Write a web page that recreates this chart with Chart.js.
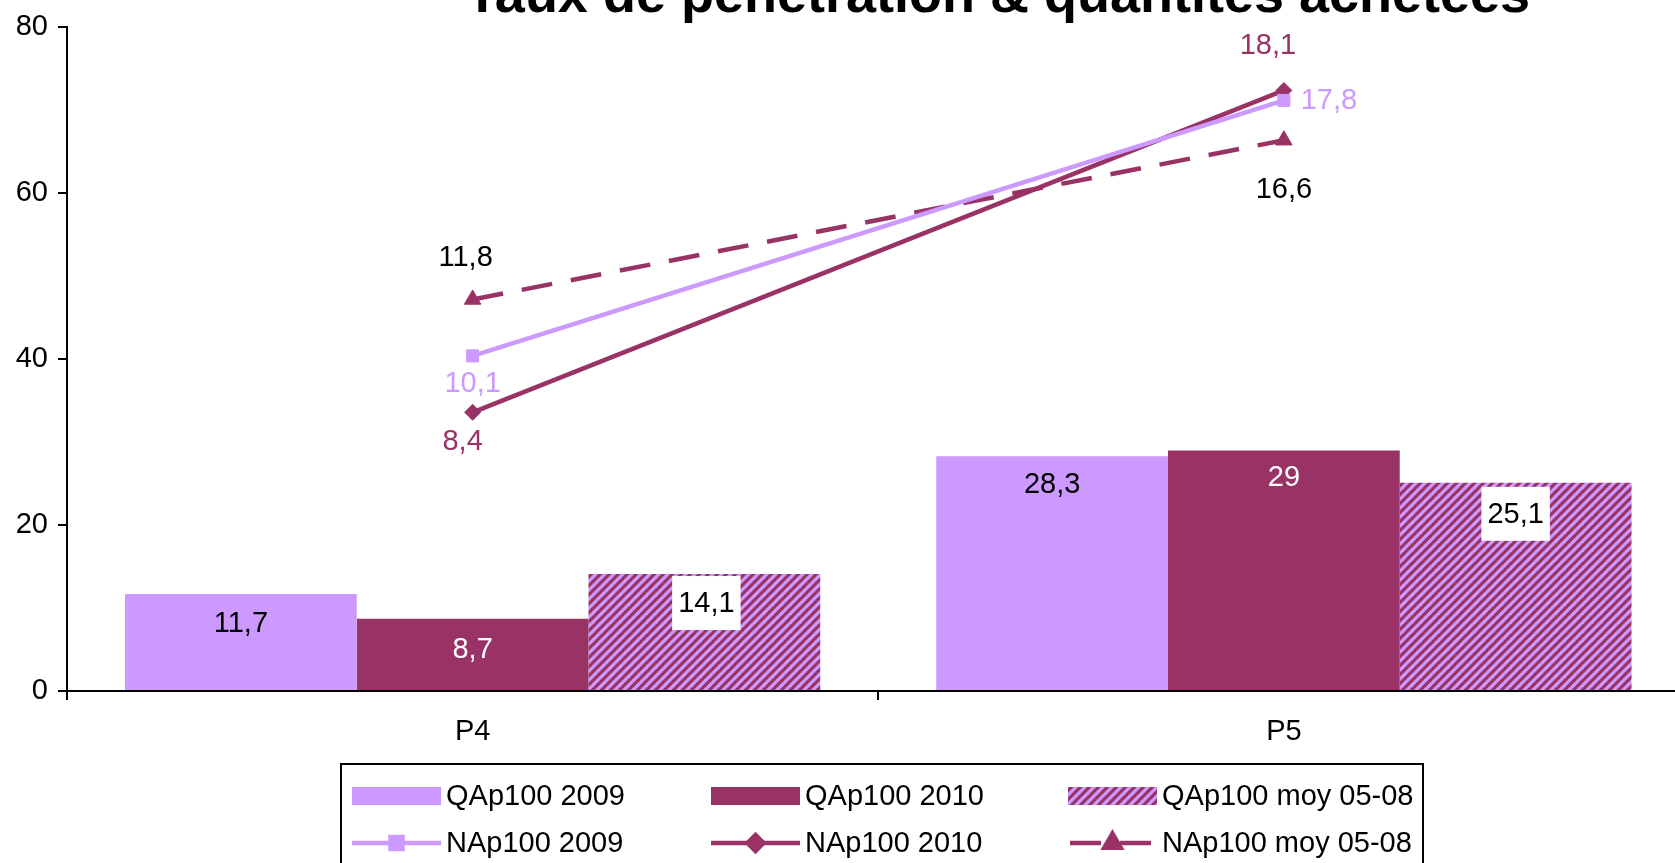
<!DOCTYPE html>
<html>
<head>
<meta charset="utf-8">
<script src="https://cdn.jsdelivr.net/npm/chart.js@4.4.1/dist/chart.umd.min.js"></script>
<style>
  html, body { margin: 0; padding: 0; background: #fff; overflow: hidden; }
  #wrap { position: absolute; left: 0; top: 0; width: 1700px; height: 863px; }
</style>
</head>
<body>
<div id="wrap"><canvas id="chart" width="1700" height="863"></canvas></div>
<script>
const chartTitle = "Taux de pénétration & quantités achetées";
const categories = ["P4", "P5"];
const yTicks = [0, 20, 40, 60, 80];
const y1Range = [0, 20];

// bars (left axis)
const qap2009 = [11.7, 28.3];
const qap2010 = [8.7, 29];
const qapMoy = [14.1, 25.1];

// lines (hidden right axis)
const nap2009 = [10.1, 17.8];
const nap2010 = [8.4, 18.1];
const napMoy = [11.8, 16.6];

const LIGHT = "#CC99FF";
const DARK = "#993366";
const FONT = "'Liberation Sans', Arial, sans-serif";
const TEXT_SIZE = 29;

function makeHatch() {
  const s = 9;
  const c = document.createElement("canvas");
  c.width = s; c.height = s;
  const g = c.getContext("2d");
  g.fillStyle = DARK;
  g.fillRect(0, 0, s, s);
  g.strokeStyle = LIGHT;
  g.lineWidth = 3.2;
  [-s, 0, s].forEach(dx => {
    g.beginPath();
    g.moveTo(dx - 1, s + 1);
    g.lineTo(dx + s + 1, -1);
    g.stroke();
  });
  return g.createPattern(c, "repeat");
}

const hatch = makeHatch();

function fmt(v) {
  return String(v).replace(".", ",");
}

const valueLabels = {
  id: "valueLabels",
  afterDatasetsDraw(chart) {
    const ctx = chart.ctx;
    ctx.save();
    ctx.font = TEXT_SIZE + "px " + FONT;
    ctx.textAlign = "center";
    ctx.textBaseline = "middle";
    chart.data.datasets.forEach((ds, i) => {
      const meta = chart.getDatasetMeta(i);
      meta.data.forEach((el, j) => {
        const text = fmt(ds.data[j]);
        const off = ds.labelOffsets[j];
        const x = el.x + off[0];
        const y = el.y + off[1];
        if (ds.labelBox) {
          const w = ctx.measureText(text).width + 12;
          ctx.fillStyle = "#fff";
          ctx.fillRect(x - w / 2, y - 27, w, 54);
        }
        ctx.fillStyle = ds.labelColor;
        ctx.fillText(text, x, y + 1);
      });
    });
    ctx.restore();
  }
};

const titleAndLegend = {
  id: "titleAndLegend",
  afterDraw(chart) {
    const ctx = chart.ctx;
    ctx.save();
    // title, cut at the top like the source
    ctx.font = "bold 54px " + FONT;
    ctx.fillStyle = "#000";
    ctx.textAlign = "center";
    ctx.textBaseline = "alphabetic";
    ctx.fillText(chartTitle, 998, 12);

    // legend box
    ctx.lineWidth = 2;
    ctx.strokeStyle = "#000";
    ctx.strokeRect(341, 764, 1082, 200);

    const cols = [352, 711, 1068];
    const rows = [796, 843];
    const sw = 89;
    ctx.font = TEXT_SIZE + "px " + FONT;
    ctx.textAlign = "left";
    ctx.textBaseline = "middle";
    chart.data.datasets.forEach((ds, i) => {
      const x = cols[i % 3];
      const y = rows[i < 3 ? 0 : 1];
      if (ds.type === "bar") {
        ctx.fillStyle = ds.backgroundColor;
        ctx.fillRect(x, y - 9, sw, 18);
      } else {
        ctx.strokeStyle = ds.borderColor;
        ctx.lineWidth = ds.borderWidth;
        if (ds.borderDash) {
          ctx.setLineDash(ds.borderDash);
          ctx.lineDashOffset = -2;
        }
        ctx.beginPath();
        ctx.moveTo(x, y);
        ctx.lineTo(x + sw, y);
        ctx.stroke();
        ctx.setLineDash([]);
        ctx.fillStyle = ds.pointBackgroundColor;
        ctx.strokeStyle = ds.pointBorderColor;
        Chart.helpers.drawPoint(ctx, {
          pointStyle: ds.pointStyle,
          radius: ds.pointRadius,
          borderWidth: ds.pointBorderWidth,
          rotation: 0
        }, x + sw / 2, y);
      }
      ctx.fillStyle = "#000";
      ctx.fillText(ds.label, x + sw + 5, y + 1);
    });
    ctx.restore();
  }
};

const tickFont = { family: FONT, size: TEXT_SIZE };

new Chart(document.getElementById("chart").getContext("2d"), {
  data: {
    labels: categories,
    datasets: [
      {
        type: "bar",
        label: "QAp100 2009",
        data: qap2009,
        yAxisID: "y",
        backgroundColor: LIGHT,
        labelColor: "#000",
        labelOffsets: [[0, 29], [0, 28]],
        order: 2
      },
      {
        type: "bar",
        label: "QAp100 2010",
        data: qap2010,
        yAxisID: "y",
        backgroundColor: DARK,
        labelColor: "#fff",
        labelOffsets: [[0, 30], [0, 27]],
        order: 2
      },
      {
        type: "bar",
        label: "QAp100 moy 05-08",
        data: qapMoy,
        yAxisID: "y",
        backgroundColor: hatch,
        labelColor: "#000",
        labelBox: true,
        labelOffsets: [[2, 29], [0, 31]],
        order: 2
      },
      {
        type: "line",
        label: "NAp100 2009",
        data: nap2009,
        yAxisID: "y1",
        borderColor: LIGHT,
        borderWidth: 4.5,
        pointStyle: "rect",
        pointRadius: 8.5,
        pointBackgroundColor: LIGHT,
        pointBorderColor: LIGHT,
        pointBorderWidth: 1,
        labelColor: LIGHT,
        labelOffsets: [[0, 27], [45, 0]],
        order: 1
      },
      {
        type: "line",
        label: "NAp100 2010",
        data: nap2010,
        yAxisID: "y1",
        borderColor: DARK,
        borderWidth: 4.5,
        pointStyle: "rectRot",
        pointRadius: 8,
        pointBackgroundColor: DARK,
        pointBorderColor: DARK,
        pointBorderWidth: 1,
        labelColor: DARK,
        labelOffsets: [[-10, 29], [-16, -45]],
        order: 1
      },
      {
        type: "line",
        label: "NAp100 moy 05-08",
        data: napMoy,
        yAxisID: "y1",
        borderColor: DARK,
        borderWidth: 4.5,
        borderDash: [31, 19],
        pointStyle: "triangle",
        pointRadius: 9.5,
        pointBackgroundColor: DARK,
        pointBorderColor: DARK,
        pointBorderWidth: 1,
        labelColor: "#000",
        labelOffsets: [[-7, -42], [0, 49]],
        order: 1
      }
    ]
  },
  options: {
    responsive: false,
    devicePixelRatio: 1,
    animation: false,
    datasets: {
      bar: {
        categoryPercentage: 0.857,
        barPercentage: 1,
        borderWidth: 0
      },
      line: {
        tension: 0
      }
    },
    layout: {
      padding: { top: 26, right: 9, bottom: 112, left: 0 }
    },
    plugins: {
      legend: { display: false },
      title: { display: false },
      tooltip: { enabled: false }
    },
    scales: {
      x: {
        type: "category",
        offset: true,
        grid: {
          offset: true,
          drawOnChartArea: false,
          tickLength: 9,
          color: "#000",
          lineWidth: 2
        },
        border: { color: "#000", width: 2 },
        ticks: { color: "#000", font: tickFont, padding: 15 },
        afterFit(scale) { scale.height = 60; }
      },
      y: {
        position: "left",
        min: yTicks[0],
        max: yTicks[yTicks.length - 1],
        afterBuildTicks(scale) {
          scale.ticks = yTicks.map(v => ({ value: v }));
        },
        grid: {
          drawOnChartArea: false,
          tickLength: 9,
          color: "#000",
          lineWidth: 2
        },
        border: { color: "#000", width: 2 },
        ticks: { color: "#000", font: tickFont, padding: 10 },
        afterFit(scale) { scale.width = 67; }
      },
      y1: {
        display: false,
        min: y1Range[0],
        max: y1Range[1]
      }
    }
  },
  plugins: [valueLabels, titleAndLegend]
});
</script>
</body>
</html>
